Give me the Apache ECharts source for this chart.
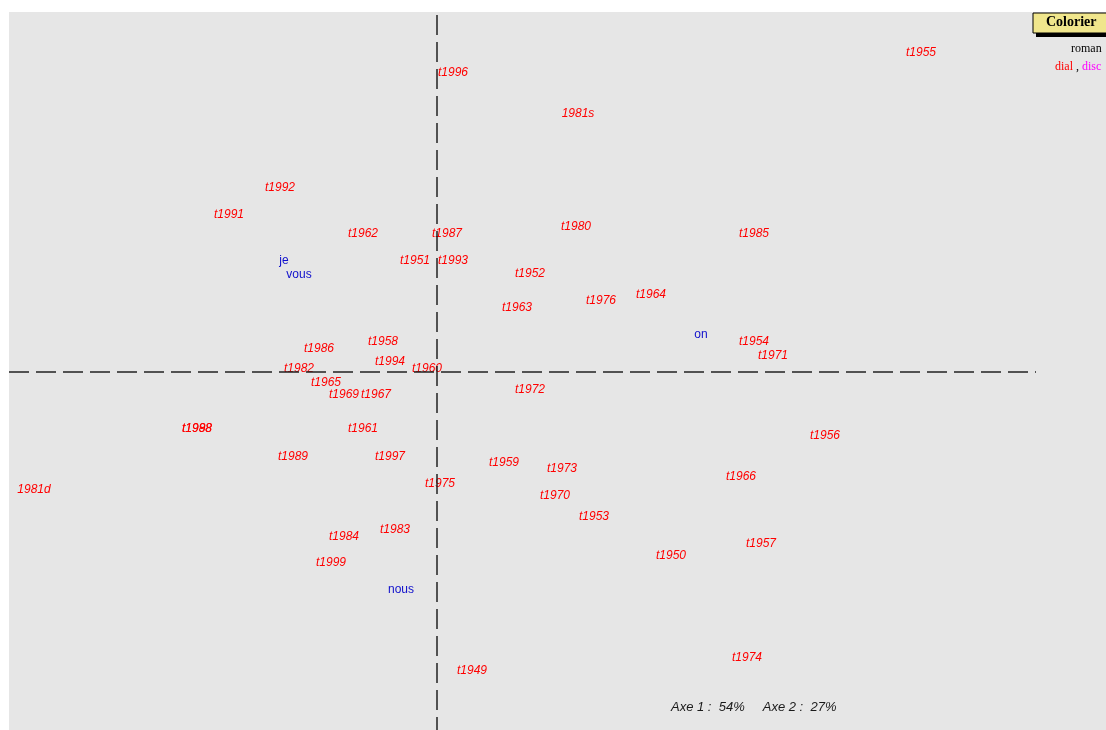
<!DOCTYPE html>
<html>
<head>
<meta charset="utf-8">
<style>
  html, body { margin: 0; padding: 0; background: #fff; }
  #main { width: 1106px; height: 730px; }
</style>
<script src="https://cdn.jsdelivr.net/npm/echarts@6/dist/echarts.min.js"></script>
</head>
<body>
<div id="main"></div>
<script>
// factor map: texts (red) and pronouns (blue), coordinates on axis 1 / axis 2
const textNames = ['t1955','t1996','1981s','t1992','t1991','t1962','t1987','t1980','t1985',
  't1951','t1993','t1952','t1963','t1976','t1964','t1954','t1971','t1986','t1958','t1994',
  't1982','t1960','t1965','t1969','t1967','t1972','t1988','t1998','t1961','t1956','t1989',
  't1997','t1959','t1973','t1966','t1975','1981d','t1970','t1953','t1983','t1984','t1957',
  't1950','t1999','t1974','t1949'];
const textAxe1 = [4.84,0.16,1.41,-1.57,-2.08,-0.74,0.10,1.39,3.17,
  -0.22,0.16,0.93,0.80,1.64,2.14,3.17,3.36,-1.18,-0.54,-0.47,
  -1.38,-0.10,-1.11,-0.93,-0.61,0.93,-2.40,-2.40,-0.74,3.88,-1.44,
  -0.47,0.67,1.25,3.04,0.03,-4.03,1.18,1.57,-0.42,-0.93,3.24,
  2.34,-1.06,3.10,0.35];
const textAxe2 = [3.21,3.01,2.60,1.86,1.59,1.40,1.40,1.47,1.40,
  1.13,1.13,1.00,0.66,0.73,0.79,0.32,0.18,0.25,0.32,0.12,
  0.05,0.05,-0.09,-0.21,-0.21,-0.16,-0.55,-0.55,-0.55,-0.62,-0.83,
  -0.83,-0.89,-0.95,-1.03,-1.10,-1.16,-1.22,-1.43,-1.56,-1.63,-1.70,
  -1.82,-1.89,-2.84,-2.97];

const wordNames = ['je','vous','on','nous'];
const wordAxe1 = [-1.53,-1.38,2.64,-0.36];
const wordAxe2 = [1.13,0.99,0.39,-2.16];

const inertia = { axe1: 54, axe2: 27 };

const toPoints = (names, xs, ys) => names.map((n, i) => ({ name: n, value: [xs[i], ys[i]] }));

const chart = echarts.init(document.getElementById('main'));

const option = {
  animation: false,
  grid: {
    left: 9, right: 0, top: 12, bottom: 0,
    show: true, backgroundColor: '#e6e6e6', borderWidth: 0
  },
  xAxis: {
    type: 'value', min: -4.28, max: 6.69,
    axisLine: { show: false }, axisTick: { show: false },
    axisLabel: { show: false }, splitLine: { show: false }
  },
  yAxis: {
    type: 'value', min: -3.58, max: 3.60,
    axisLine: { show: false }, axisTick: { show: false },
    axisLabel: { show: false }, splitLine: { show: false }
  },
  series: [
    {
      type: 'scatter',
      data: toPoints(textNames, textAxe1, textAxe2),
      symbolSize: 1,
      itemStyle: { color: 'rgba(0,0,0,0)', opacity: 1 },
      label: {
        show: true, position: 'inside', offset: [0, 1.5],
        formatter: p => p.name, opacity: 1,
        color: '#ff0000', fontSize: 12, fontStyle: 'italic',
        fontFamily: 'Liberation Sans, Arial, sans-serif'
      },
      markLine: {
        silent: true, symbol: 'none',
        label: { show: false },
        lineStyle: { color: '#222', width: 1.5, type: [20, 7], opacity: 1 },
        data: [
          [{ coord: [-4.28, 0] }, { coord: [5.99, 0] }],
          [{ coord: [0, 3.57] }, { coord: [0, -3.58] }]
        ]
      },
      z: 3
    },
    {
      type: 'scatter',
      data: toPoints(wordNames, wordAxe1, wordAxe2),
      symbolSize: 1,
      itemStyle: { color: 'rgba(0,0,0,0)', opacity: 1 },
      label: {
        show: true, position: 'inside', offset: [0, 1.5],
        formatter: p => p.name, opacity: 1,
        color: '#1010cc', fontSize: 12,
        fontFamily: 'Liberation Sans, Arial, sans-serif'
      },
      z: 3
    }
  ],
  graphic: [
    {
      type: 'text', left: 671, top: 701,
      style: {
        text: 'Axe 1 :  ' + inertia.axe1 + '%     Axe 2 :  ' + inertia.axe2 + '%',
        fill: '#1a1a1a', fontSize: 13, fontStyle: 'italic',
        fontFamily: 'Liberation Sans, Arial, sans-serif'
      }
    },
    // "Colorier" button
    { type: 'rect', shape: { x: 1036, y: 33, width: 72, height: 4 }, style: { fill: '#000' } },
    { type: 'rect', shape: { x: 1033, y: 13, width: 74, height: 20 }, style: { fill: '#f0e68c', stroke: '#000', lineWidth: 1 } },
    {
      type: 'text', x: 1046, y: 15,
      style: { text: 'Colorier', fill: '#000', fontSize: 14, fontWeight: 'bold', fontFamily: 'Liberation Serif, Times New Roman, serif' }
    },
    {
      type: 'text', x: 1071, y: 43,
      style: { text: 'roman', fill: '#000', fontSize: 12, fontFamily: 'Liberation Serif, Times New Roman, serif' }
    },
    {
      type: 'text', x: 1055, y: 61,
      style: {
        text: '{r|dial} , {m|disc}', fill: '#000', fontSize: 12,
        fontFamily: 'Liberation Serif, Times New Roman, serif',
        rich: {
          r: { fill: '#f00', fontSize: 12, fontFamily: 'Liberation Serif, Times New Roman, serif' },
          m: { fill: '#f0f', fontSize: 12, fontFamily: 'Liberation Serif, Times New Roman, serif' }
        }
      }
    }
  ]
};

chart.setOption(option);
</script>
</body>
</html>
